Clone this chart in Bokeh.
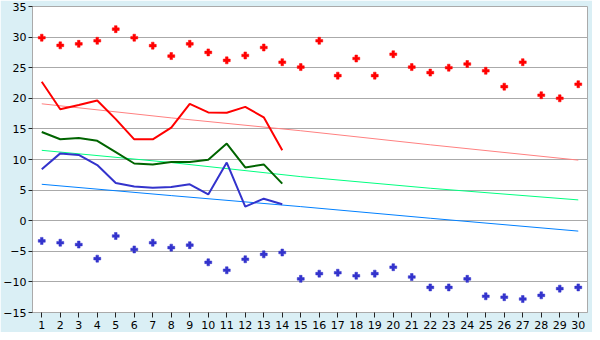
from bokeh.plotting import figure
from bokeh.models import Range1d, SingleIntervalTicker
from bokeh.embed import file_html
from bokeh.resources import INLINE

days = list(range(1, 31))
rec_max = [29.9, 28.65, 28.9, 29.4, 31.3, 29.9, 28.6, 26.9, 28.9, 27.5,
           26.2, 27.0, 28.3, 25.9, 25.1, 29.4, 23.7, 26.5, 23.7, 27.2,
           25.1, 24.2, 25.0, 25.6, 24.5, 21.9, 25.9, 20.5, 20.0, 22.3]
rec_min = [-3.3, -3.6, -3.9, -6.2, -2.5, -4.7, -3.6, -4.4, -4.0, -6.8,
           -8.1, -6.3, -5.5, -5.2, -9.5, -8.65, -8.5, -9.0, -8.65, -7.6,
           -9.2, -10.9, -10.9, -9.5, -12.35, -12.5, -12.8, -12.2, -11.1, -10.9]

obs_days = list(range(1, 15))
obs_max = [22.7, 18.2, 18.9, 19.65, 16.6, 13.3, 13.3, 15.2, 19.1, 17.7, 17.65, 18.6, 16.9, 11.5]
obs_mean = [14.5, 13.3, 13.5, 13.05, 11.2, 9.35, 9.2, 9.6, 9.6, 9.95, 12.6, 8.7, 9.2, 6.05]
obs_min = [8.4, 11.0, 10.75, 9.1, 6.15, 5.6, 5.4, 5.5, 5.95, 4.3, 9.5, 2.3, 3.6, 2.7]

norm_days = [1, 8, 15, 22, 30]
norm_max = [19.1, 16.8, 14.7, 12.4, 9.9]
norm_mean = [11.5, 9.5, 7.2, 5.3, 3.4]
norm_min = [5.95, 4.1, 2.3, 0.4, -1.7]

BG = "#DAEFF5"
GRID = "#AAAAAA"
FONT = "DejaVu Sans"

p = figure(width=592, height=332, output_backend="svg", toolbar_location=None,
           x_range=Range1d(0.5, 30.5), y_range=Range1d(-15, 35),
           min_border_left=24, min_border_right=5, min_border_top=6, min_border_bottom=20)
p.background_fill_color = "white"
p.border_fill_color = BG
p.outline_line_color = GRID
p.outline_line_width = 1

p.xgrid.grid_line_color = None
p.ygrid.grid_line_color = GRID
p.ygrid.grid_line_width = 1

p.xaxis.ticker = SingleIntervalTicker(interval=1, num_minor_ticks=0)
p.yaxis.ticker = SingleIntervalTicker(interval=5, num_minor_ticks=0)
for ax in (p.xaxis, p.yaxis):
    ax.axis_line_color = GRID
    ax.major_tick_line_color = "#222222"
    ax.minor_tick_line_color = None
    ax.major_tick_in = 0
    ax.major_label_text_font = FONT
    ax.major_label_text_font_size = "11px"
    ax.major_label_text_color = "black"
p.xaxis.major_tick_out = 5
p.yaxis.major_tick_out = 4
p.xaxis.major_label_standoff = 3
p.yaxis.major_label_standoff = 2

# normal trend lines
p.line(norm_days, norm_max, line_color="#FF8080", line_width=1)
p.line(norm_days, norm_mean, line_color="#00FF80", line_width=1)
p.line(norm_days, norm_min, line_color="#0080FF", line_width=1)

# observed lines
p.line(obs_days, obs_max, line_color="#FF0000", line_width=2)
p.line(obs_days, obs_mean, line_color="#006400", line_width=2)
p.line(obs_days, obs_min, line_color="#3333CC", line_width=2)

# records
p.scatter(days, rec_max, marker="plus", size=7, fill_color="#FF0000", line_color="#FF0000", line_width=0.5)
p.scatter(days, rec_min, marker="plus", size=7, fill_color="#3333CC", line_color="#3333CC", line_width=0.5)

open("out.html", "w").write(file_html(p, INLINE))
